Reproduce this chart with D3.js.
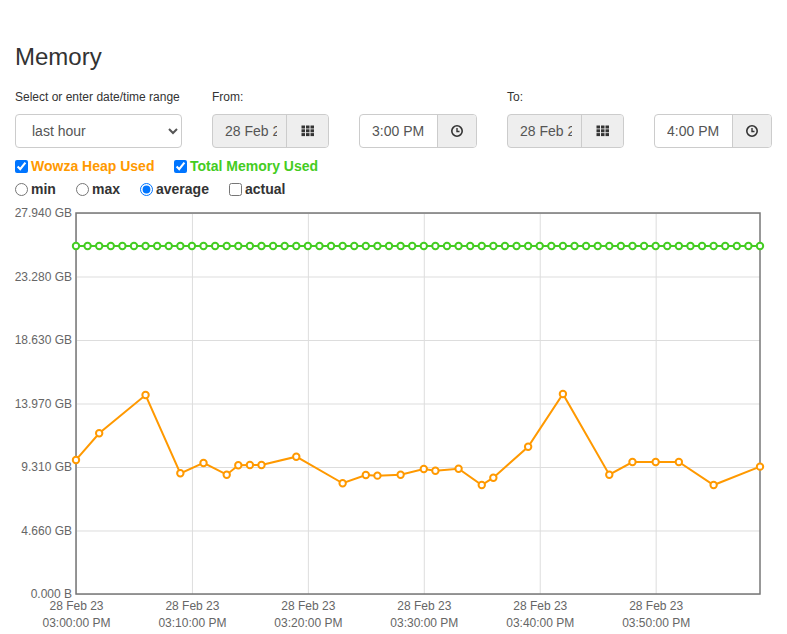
<!DOCTYPE html>
<meta charset="utf-8">
<style type="text/css">
body { margin: 0; font-family: "Liberation Sans", Arial, sans-serif; color: #333; background: #fff; }
.abs { position: absolute; }
h2 { position: absolute; left: 15px; top: 42px; margin: 0; font-size: 24px; font-weight: 500; line-height: 30px; }
.lbl { font-size: 12px; line-height: 14px; top: 90px; }
.box { box-sizing: border-box; top: 114px; height: 34px; border: 1px solid #ccc; border-radius: 4px; font-size: 14px; line-height: 32px; overflow: hidden; }
.box .txt { position: absolute; top: 0; overflow: hidden; white-space: nowrap; color: #555; }
.box .btn { position: absolute; top: 0; right: 0; bottom: 0; background: #eee; border-left: 1px solid #ccc; }
.box .btn svg { position: absolute; left: 50%; top: 50%; transform: translate(-50%, -50%); }
select { position: absolute; left: 15px; top: 114px; width: 167px; height: 34px; padding: 0 10px 0 12px; font-size: 14px; color: #555;
  border: 1px solid #ccc; border-radius: 4px; background: #fff; font-family: "Liberation Sans", Arial, sans-serif; }
.opt { font-size: 14px; font-weight: bold; line-height: 16px; }
.opt input { position: absolute; margin: 0; width: 13px; height: 13px; left: 0; top: 2px; }
.opt span { position: absolute; left: 16px; top: 0; white-space: nowrap; }
.gridline line { stroke: #ddd; stroke-width: 1; }
.gridline path { display: none; }
.axis text { fill: #666; font-size: 12px; font-family: "Liberation Sans", Arial, sans-serif; }
.axis path, .axis line { display: none; }
.frame { fill: none; stroke: #777; stroke-width: 1.5; }
.line { fill: none; stroke-width: 2; }
.dot { fill: #fff; stroke-width: 2; }
</style>
<body>
<h2>Memory</h2>
<div class="abs lbl" style="left:15px">Select or enter date/time range</div>
<select><option>last hour</option></select>
<div class="abs lbl" style="left:212px">From:</div>
<div class="abs lbl" style="left:507px">To:</div>
<div class="abs opt" style="left:15px;top:158px;width:150px;height:16px"><input type="checkbox" checked><span style="color:#ff9900">Wowza Heap Used</span></div>
<div class="abs opt" style="left:174px;top:158px;width:150px;height:16px"><input type="checkbox" checked><span style="color:#44cc22">Total Memory Used</span></div>
<div class="abs opt" style="left:15px;top:181px;width:50px;height:16px"><input type="radio" name="agg"><span>min</span></div>
<div class="abs opt" style="left:76px;top:181px;width:50px;height:16px"><input type="radio" name="agg"><span>max</span></div>
<div class="abs opt" style="left:140px;top:181px;width:80px;height:16px"><input type="radio" name="agg" checked><span>average</span></div>
<div class="abs opt" style="left:229px;top:181px;width:60px;height:16px"><input type="checkbox"><span>actual</span></div>

<script src="https://cdnjs.cloudflare.com/ajax/libs/d3/7.8.5/d3.min.js"></script>
<script>

// date/time pickers (the date text is clipped in the original too)
var pickers = [
  {left: 212, width: 117, btn: 41, text: "28 Feb 2023", textW: 52, bg: "#eee", icon: "grid"},
  {left: 359, width: 118, btn: 38, text: "3:00 PM", textW: 60, bg: "#fff", icon: "clock"},
  {left: 507, width: 117, btn: 41, text: "28 Feb 2023", textW: 52, bg: "#eee", icon: "grid"},
  {left: 654, width: 118, btn: 38, text: "4:00 PM", textW: 60, bg: "#fff", icon: "clock"}
];

// memory samples, GB
var heapTimes = ["15:00", "15:02", "15:06", "15:09", "15:11", "15:13", "15:14", "15:15", "15:16",
  "15:19", "15:23", "15:25", "15:26", "15:28", "15:30", "15:31", "15:33", "15:35", "15:36",
  "15:39", "15:42", "15:46", "15:48", "15:50", "15:52", "15:55", "15:59"];
var heapValues = [9.83, 11.79, 14.59, 8.85, 9.61, 8.75, 9.44, 9.46, 9.46,
  10.07, 8.12, 8.73, 8.68, 8.75, 9.17, 9.04, 9.19, 7.99, 8.53,
  10.80, 14.67, 8.75, 9.68, 9.68, 9.68, 7.99, 9.34];

var totalTimes = ["15:00", "15:01", "15:02", "15:03", "15:04", "15:05", "15:06", "15:07", "15:08", "15:09",
  "15:10", "15:11", "15:12", "15:13", "15:14", "15:15", "15:16", "15:17", "15:18", "15:19",
  "15:20", "15:21", "15:22", "15:23", "15:24", "15:25", "15:26", "15:27", "15:28", "15:29",
  "15:30", "15:31", "15:32", "15:33", "15:34", "15:35", "15:36", "15:37", "15:38", "15:39",
  "15:40", "15:41", "15:42", "15:43", "15:44", "15:45", "15:46", "15:47", "15:48", "15:49",
  "15:50", "15:51", "15:52", "15:53", "15:54", "15:55", "15:56", "15:57", "15:58", "15:59"];
var totalValues = [25.52, 25.52, 25.52, 25.52, 25.52, 25.52, 25.52, 25.52, 25.52, 25.52,
  25.52, 25.52, 25.52, 25.52, 25.52, 25.52, 25.52, 25.52, 25.52, 25.52,
  25.52, 25.52, 25.52, 25.52, 25.52, 25.52, 25.52, 25.52, 25.52, 25.52,
  25.52, 25.52, 25.52, 25.52, 25.52, 25.52, 25.52, 25.52, 25.52, 25.52,
  25.52, 25.52, 25.52, 25.52, 25.52, 25.52, 25.52, 25.52, 25.52, 25.52,
  25.52, 25.52, 25.52, 25.52, 25.52, 25.52, 25.52, 25.52, 25.52, 25.52];

var yTickValues = [0, 4.657, 9.313, 13.97, 18.627, 23.283, 27.94];
var yTickLabels = ["0.000 B", "4.660 GB", "9.310 GB", "13.970 GB", "18.630 GB", "23.280 GB", "27.940 GB"];
var xDomain = ["15:00", "15:59"];

var heapColor = "#ff9900", totalColor = "#44cc22";

pickers.forEach(function(p) {
  var box = d3.select("body").append("div")
      .attr("class", "abs box")
      .style("left", p.left + "px")
      .style("width", p.width + "px")
      .style("background", p.bg);
  box.append("div")
      .attr("class", "txt")
      .style("left", "12px")
      .style("width", p.textW + "px")
      .text(p.text);
  var b = box.append("div")
      .attr("class", "btn")
      .style("width", p.btn + "px")
    .append("svg")
      .attr("width", 14).attr("height", 14);
  if (p.icon == "grid") {
    for (var r = 0; r < 3; r++)
      for (var c = 0; c < 3; c++)
        b.append("rect").attr("x", 0.5 + c * 4.5).attr("y", 1.5 + r * 3.8)
          .attr("width", 3.5).attr("height", 3).attr("fill", "#333");
  } else {
    b.append("circle").attr("cx", 7).attr("cy", 7).attr("r", 5.2)
      .attr("fill", "none").attr("stroke", "#333").attr("stroke-width", 1.6);
    b.append("path").attr("d", "M7,4 V7.5 H9.5")
      .attr("fill", "none").attr("stroke", "#333").attr("stroke-width", 1.4);
  }
});

var parseTime = d3.timeParse("%Y-%m-%d %H:%M");
function t(s) { return parseTime("2023-02-28 " + s); }

var heap = heapTimes.map(function(s, i) { return {date: t(s), value: heapValues[i]}; });
var total = totalTimes.map(function(s, i) { return {date: t(s), value: totalValues[i]}; });

var margin = {top: 13, right: 27, bottom: 40, left: 76},
    width = 684,
    height = 381;

var svg = d3.select("body").append("svg")
    .attr("class", "abs")
    .style("left", "0px").style("top", "200px")
    .attr("width", 787)
    .attr("height", 434)
  .append("g")
    .attr("transform", "translate(" + margin.left + "," + margin.top + ")");

var xScale = d3.scaleTime()
    .domain(xDomain.map(t))
    .range([0, width]);

var yScale = d3.scaleLinear()
    .domain([0, 27.94])
    .range([height, 0]);

var xTicks = d3.timeMinute.every(10);

// grid
svg.append("g")
    .attr("class", "gridline")
    .attr("transform", "translate(0," + height + ")")
    .call(d3.axisBottom(xScale).ticks(xTicks).tickSize(-height).tickFormat(""));

svg.append("g")
    .attr("class", "gridline")
    .call(d3.axisLeft(yScale).tickValues(yTickValues).tickSize(-width).tickFormat(""));

// axes labels
svg.append("g")
    .attr("class", "axis")
    .call(d3.axisLeft(yScale)
      .tickValues(yTickValues)
      .tickSize(0)
      .tickPadding(4)
      .tickFormat(function(d, i) { return yTickLabels[i]; }));

var xAxis = svg.append("g")
    .attr("class", "axis")
    .attr("transform", "translate(0," + height + ")")
    .call(d3.axisBottom(xScale).ticks(xTicks).tickSize(0).tickFormat(""));

var fmtDate = d3.timeFormat("%d %b %y"), fmtTime = d3.timeFormat("%I:%M:%S %p");
xAxis.selectAll(".tick").each(function(d) {
  var g = d3.select(this);
  g.select("text").remove();
  g.append("text").attr("y", 16).attr("text-anchor", "middle").text(fmtDate(d));
  g.append("text").attr("y", 33).attr("text-anchor", "middle").text(fmtTime(d));
});

svg.append("rect")
    .attr("class", "frame")
    .attr("width", width)
    .attr("height", height);

var line = d3.line()
    .x(function(d) { return xScale(d.date); })
    .y(function(d) { return yScale(d.value); });

[[total, totalColor], [heap, heapColor]].forEach(function(s) {
  svg.append("path")
      .datum(s[0])
      .attr("class", "line")
      .attr("stroke", s[1])
      .attr("d", line);

  svg.append("g").selectAll(".dot")
      .data(s[0])
    .enter().append("circle")
      .attr("class", "dot")
      .attr("stroke", s[1])
      .attr("cx", function(d) { return xScale(d.date); })
      .attr("cy", function(d) { return yScale(d.value); })
      .attr("r", 3.2);
});

</script>
</body>
